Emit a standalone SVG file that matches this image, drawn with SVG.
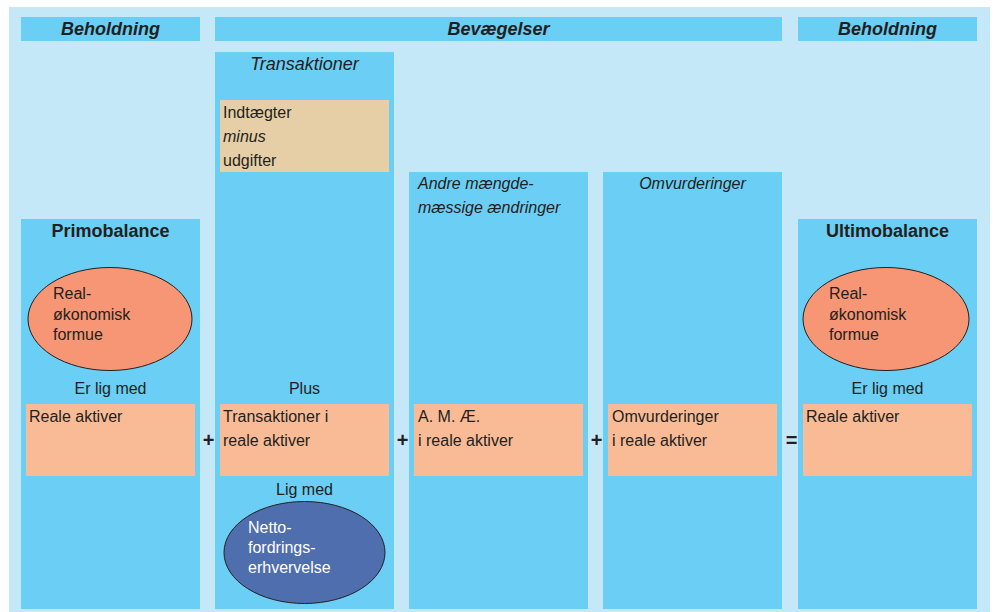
<svg xmlns="http://www.w3.org/2000/svg" width="994" height="612" viewBox="0 0 994 612">
<style>
text{font-family:"Liberation Sans",Arial,sans-serif;fill:#231F20;font-size:16px}
.hd{font-weight:bold;font-style:italic;font-size:18px;text-anchor:middle}
.bt{font-weight:bold;font-size:18px;text-anchor:middle}
.it{font-style:italic}
.c{text-anchor:middle}
.col{fill:#6ACEF5}
.box{fill:#F9BB96}
.ell{fill:#F69674;stroke:#231F20;stroke-width:1}
.op{font-weight:bold;font-size:20px;text-anchor:middle}
</style>
<rect x="9" y="7" width="981" height="605" fill="#C5E8F9"/>
<g id="headers">
<rect class="col" x="21" y="17" width="179" height="24"/>
<text class="hd" x="110.5" y="35">Beholdning</text>
<rect class="col" x="215" y="17" width="567" height="24"/>
<text class="hd" x="498.5" y="35">Bevægelser</text>
<rect class="col" x="798" y="17" width="179" height="24"/>
<text class="hd" x="887.5" y="35">Beholdning</text>
</g>
<g id="primo">
<rect class="col" x="21" y="219" width="179" height="390"/>
<text class="bt" x="110.5" y="237">Primobalance</text>
<ellipse class="ell" cx="110" cy="319" rx="82" ry="51.5"/>
<text x="53" y="299">Real-</text>
<text x="53" y="320">økonomisk</text>
<text x="53" y="340">formue</text>
<text class="c" x="110.5" y="394">Er lig med</text>
<rect class="box" x="26" y="404" width="169" height="72"/>
<text x="29" y="422">Reale aktiver</text>
</g>
<g id="transaktioner">
<rect class="col" x="215" y="52" width="179" height="557"/>
<text class="c it" x="304.5" y="70" style="font-size:18px">Transaktioner</text>
<rect x="220" y="100" width="169" height="72" fill="#E6CFA6"/>
<text x="223" y="118">Indtægter</text>
<text class="it" x="223" y="141.5">minus</text>
<text x="223" y="165.5">udgifter</text>
<text class="c" x="304.5" y="394">Plus</text>
<rect class="box" x="220" y="404" width="169" height="72"/>
<text x="223" y="422">Transaktioner i</text>
<text x="223" y="446">reale aktiver</text>
<text class="c" x="304.5" y="495">Lig med</text>
<ellipse cx="304.5" cy="552.5" rx="80.5" ry="51" fill="#4F6EAD" stroke="#231F20" stroke-width="1"/>
<text x="248" y="533" style="fill:#fff">Netto-</text>
<text x="248" y="553" style="fill:#fff">fordrings-</text>
<text x="248" y="573" style="fill:#fff">erhvervelse</text>
</g>
<g id="andre">
<rect class="col" x="409" y="172" width="179" height="437"/>
<text class="it" x="418" y="189">Andre mængde-</text>
<text class="it" x="418" y="213">mæssige ændringer</text>
<rect class="box" x="414" y="404" width="169" height="72"/>
<text x="418" y="422">A. M. Æ.</text>
<text x="418" y="446">i reale aktiver</text>
</g>
<g id="omvurderinger">
<rect class="col" x="603" y="172" width="179" height="437"/>
<text class="c it" x="692.5" y="189">Omvurderinger</text>
<rect class="box" x="608" y="404" width="169" height="72"/>
<text x="612" y="422">Omvurderinger</text>
<text x="612" y="446">i reale aktiver</text>
</g>
<g id="ultimo">
<rect class="col" x="798" y="219" width="179" height="390"/>
<text class="bt" x="887.5" y="237">Ultimobalance</text>
<ellipse class="ell" cx="886" cy="319" rx="83" ry="51.5"/>
<text x="829" y="299">Real-</text>
<text x="829" y="320">økonomisk</text>
<text x="829" y="340">formue</text>
<text class="c" x="887.5" y="394">Er lig med</text>
<rect class="box" x="803" y="404" width="169" height="72"/>
<text x="806" y="422">Reale aktiver</text>
</g>
<g id="connectors">
<text class="op" x="208.5" y="447">+</text>
<text class="op" x="402.5" y="447">+</text>
<text class="op" x="596.5" y="447">+</text>
<text class="op" x="791.5" y="447">=</text>
</g>
</svg>
